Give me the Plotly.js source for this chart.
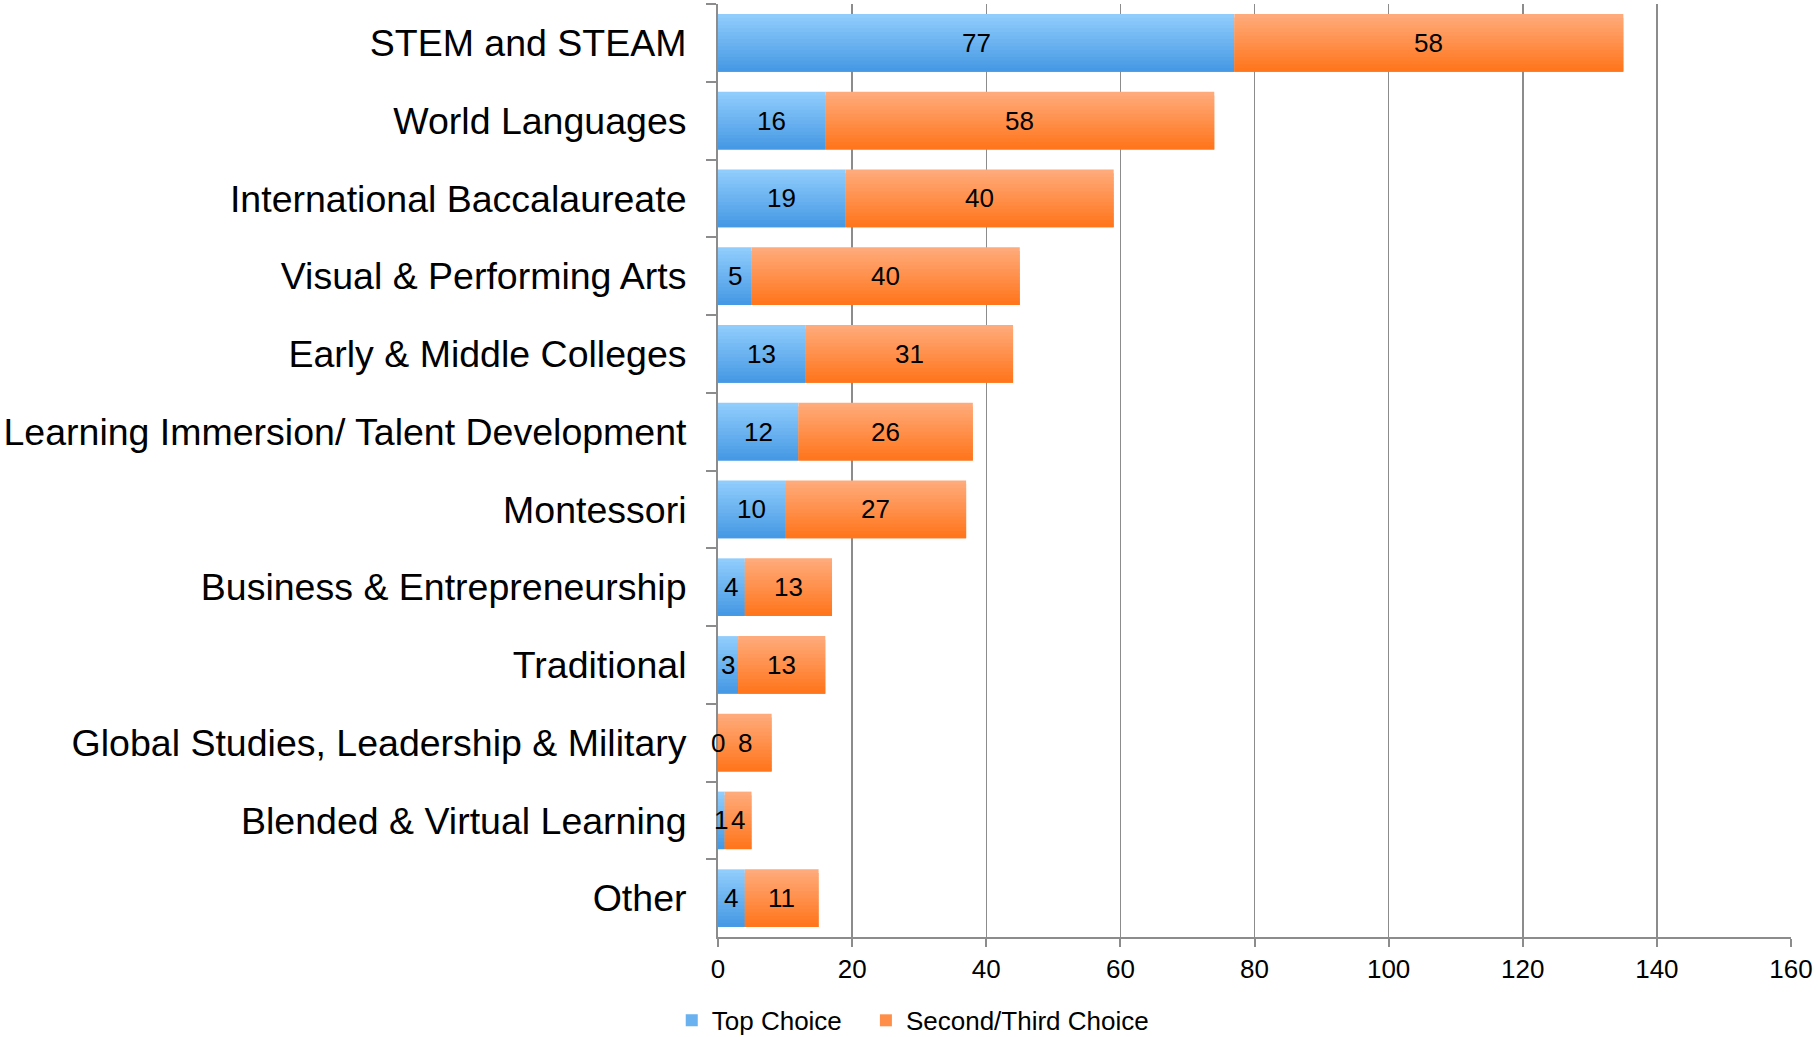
<!DOCTYPE html>
<html>
<head>
<meta charset="utf-8">
<script src="https://cdn.plot.ly/plotly-3.0.1.min.js"></script>
<style>html,body{margin:0;padding:0;background:#fff;}#chart{width:1818px;height:1037px;}</style>
</head>
<body>
<div id="chart"></div>
<script>
const categories = [
  "STEM and STEAM",
  "World Languages",
  "International Baccalaureate",
  "Visual & Performing Arts",
  "Early & Middle Colleges",
  "Learning Immersion/ Talent Development",
  "Montessori",
  "Business & Entrepreneurship",
  "Traditional",
  "Global Studies, Leadership & Military",
  "Blended & Virtual Learning",
  "Other"
];
const topChoice = [77, 16, 19, 5, 13, 12, 10, 4, 3, 0, 1, 4];
const secondThird = [58, 58, 40, 40, 31, 26, 27, 13, 13, 8, 4, 11];
const seriesNames = ["Top Choice", "Second/Third Choice"];
const xTicks = [0, 20, 40, 60, 80, 100, 120, 140, 160];

// gradient colours (top -> bottom of each bar)
const blueTop = [144, 204, 252], blueBot = [70, 153, 228];
const orangeTop = [255, 170, 122], orangeBot = [255, 118, 28];
const N = 16;
const barW = 0.74;

function mix(a, b, t) {
  return 'rgb(' + a.map((v, i) => Math.round(v + (b[i] - v) * t)).join(',') + ')';
}

const traces = [];
function addSeries(values, bases, cTop, cBot, name, legendId) {
  const mid = Math.floor(N / 2);
  for (let k = 0; k < N; k++) {
    const t = k / (N - 1);
    const band = barW / N;
    traces.push({
      type: 'bar',
      orientation: 'h',
      y: categories,
      x: values,
      base: bases,
      width: k === N - 1 ? band : band * 2,
      offset: -barW / 2 + k * band,
      marker: {color: mix(cTop, cBot, t), line: {width: 0}},
      name: name,
      legend: legendId,
      legendgroup: name,
      showlegend: k === mid,
      hoverinfo: 'skip',
      textposition: 'none'
    });
  }
}
addSeries(topChoice, topChoice.map(() => 0), blueTop, blueBot, seriesNames[0], 'legend');
addSeries(secondThird, topChoice, orangeTop, orangeBot, seriesNames[1], 'legend2');

const annotations = [];
categories.forEach((c, i) => {
  annotations.push({x: topChoice[i] / 2, y: c, xref: 'x', yref: 'y', text: String(topChoice[i]),
    showarrow: false, font: {size: 26, color: '#000'}});
  annotations.push({x: topChoice[i] + secondThird[i] / 2, y: c, xref: 'x', yref: 'y', text: String(secondThird[i]),
    showarrow: false, font: {size: 26, color: '#000'}});
});

const legendBase = {
  orientation: 'h',
  xref: 'container', yref: 'container',
  xanchor: 'left',
  y: 0.016, yanchor: 'middle',
  font: {size: 26, color: '#000'},
  bgcolor: 'rgba(0,0,0,0)',
  itemwidth: 30
};

const layout = {
  width: 1818,
  height: 1037,
  margin: {l: 718, r: 27, t: 4, b: 100},
  paper_bgcolor: '#fff',
  plot_bgcolor: '#fff',
  font: {family: '"Liberation Sans", Arial, sans-serif', color: '#000', size: 26},
  barmode: 'overlay',
  showlegend: true,
  legend: Object.assign({}, legendBase, {x: 0.3695}),
  legend2: Object.assign({}, legendBase, {x: 0.4763}),
  xaxis: {
    range: [0, 160],
    tickvals: xTicks,
    ticktext: xTicks.map(String),
    showgrid: true,
    gridcolor: '#8c8c8c',
    gridwidth: 1.5,
    zeroline: false,
    showline: true,
    linecolor: '#8c8c8c',
    linewidth: 2,
    ticks: 'outside',
    ticklen: 8,
    tickwidth: 2,
    tickcolor: '#8c8c8c',
    tickfont: {size: 26},
    fixedrange: true
  },
  yaxis: {
    type: 'category',
    categoryorder: 'array',
    categoryarray: categories,
    autorange: 'reversed',
    showline: true,
    linecolor: '#8c8c8c',
    linewidth: 2,
    ticks: 'outside',
    tickson: 'boundaries',
    ticklen: 10,
    tickwidth: 2,
    tickcolor: '#8c8c8c',
    showgrid: false,
    tickfont: {size: 37.5},
    ticklabelstandoff: 22,
    fixedrange: true
  },
  annotations: annotations
};

Plotly.newPlot('chart', traces, layout, {displayModeBar: false, staticPlot: true});
</script>
</body>
</html>
